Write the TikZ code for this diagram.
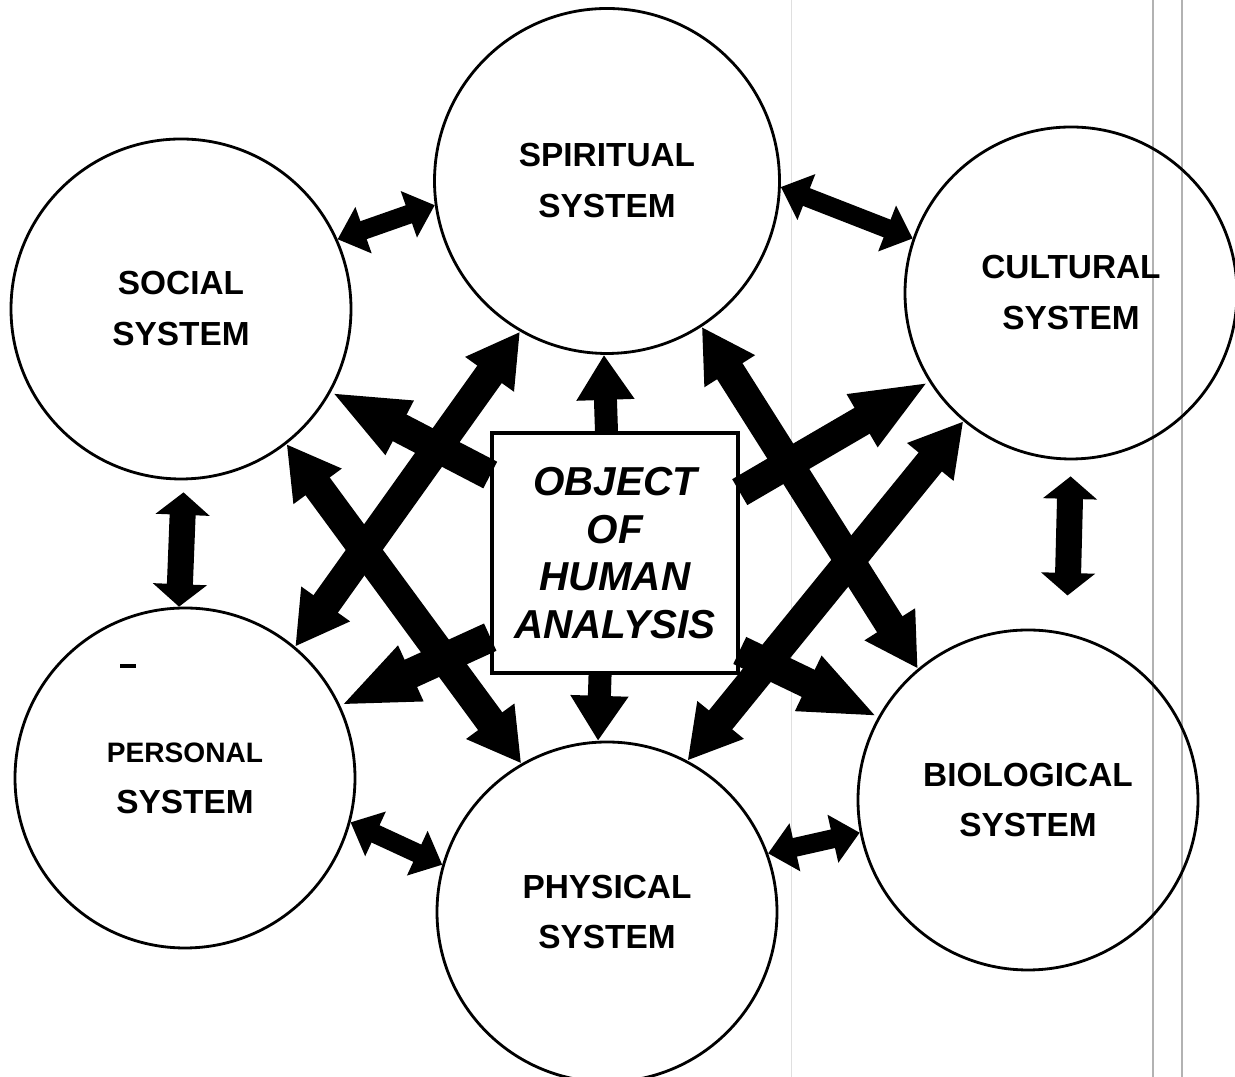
\documentclass[tikz,border=0pt]{standalone}
\usepackage{fontspec}
\setmainfont{Liberation Sans}
\usetikzlibrary{arrows.meta}

\tikzset{
    sys/.style={circle, draw, line width=1.6pt, minimum size=6.8cm, inner sep=0pt, align=center,
        font=\fontsize{19}{29}\selectfont\bfseries},
    hub/.style={rectangle, draw, line width=2pt, minimum width=4.92cm, minimum height=4.8cm,
        inner sep=0pt, align=center, font=\fontsize{23}{27}\selectfont\bfseries\itshape},
    nearlink/.style={line width=0.38cm, {Triangle[length=0.55cm,width=0.95cm]}-{Triangle[length=0.55cm,width=0.95cm]}},
    vlink/.style={line width=0.52cm, {Triangle[length=0.45cm,width=1.06cm]}-{Triangle[length=0.45cm,width=1.06cm]}},
    longlink/.style={line width=0.6cm, {Triangle[length=1.05cm,width=1.12cm]}-{Triangle[length=1.05cm,width=1.12cm]}},
    spoke/.style={line width=0.6cm, -{Triangle[length=1.55cm,width=1.1cm]}},
    vspoke/.style={line width=0.46cm, -{Triangle[length=0.9cm,width=1.1cm]}},
}

\begin{document}
\begin{tikzpicture}
    \useasboundingbox (0,0) rectangle (24.7,21.54);

    % edges of the scanned page
    \draw[gray!25, line width=0.5pt] (15.82,0) -- (15.82,21.54);
    \draw[gray!60, line width=0.7pt] (23.06,0) -- (23.06,21.54);
    \draw[gray!60, line width=0.7pt] (23.64,0) -- (23.64,21.54);

    \node[sys, minimum size=6.9cm] (spi) at (12.14,17.92) {SPIRITUAL\\SYSTEM};
    \node[sys] (soc) at (3.62,15.36) {SOCIAL\\SYSTEM};
    \node[sys, minimum size=6.64cm] (cul) at (21.42,15.68) {CULTURAL\\SYSTEM};
    \node[sys] (per) at (3.70,5.98) {{\fontsize{16}{29}\selectfont PERSONAL}\\SYSTEM};
    \node[sys] (phy) at (12.14,3.30) {PHYSICAL\\SYSTEM};
    \node[sys] (bio) at (20.56,5.54) {BIOLOGICAL\\SYSTEM};

    \node[hub] (obj) at (12.30,10.48) {OBJECT\\OF\\HUMAN\\ANALYSIS};

    \fill (2.40,8.18) rectangle (2.72,8.26);

    % ring of neighbours
    \draw[nearlink] (soc.24) -- (spi.188);
    \draw[nearlink] (spi.358) -- (cul.161);
    \draw[nearlink] (per.345) -- (phy.164);
    \draw[nearlink] (phy.20) -- (bio.191);
    \draw[vlink, shorten <=0.24cm] (soc.271) -- (per.92);
    \draw[vlink, shorten <=0.32cm, shorten >=0.75cm] (cul.270) -- (bio.77);

    % long crossing arrows
    \draw[longlink] (per.50) -- (spi.240);
    \draw[longlink] (soc.308) -- (phy.120);
    \draw[longlink] (spi.303) -- (bio.130);
    \draw[longlink] (phy.62) -- (cul.230);

    % out of the object
    \draw[spoke] (obj.148) -- (soc.331);
    \draw[spoke] (obj.214) -- (per.25);
    \draw[spoke] (obj.26) -- (cul.212);
    \draw[spoke] (obj.322) -- (bio.151);
    \draw[vspoke] (obj.94) -- (spi.269);
    \draw[vspoke] (obj.263) -- (phy.93);
\end{tikzpicture}
\end{document}
